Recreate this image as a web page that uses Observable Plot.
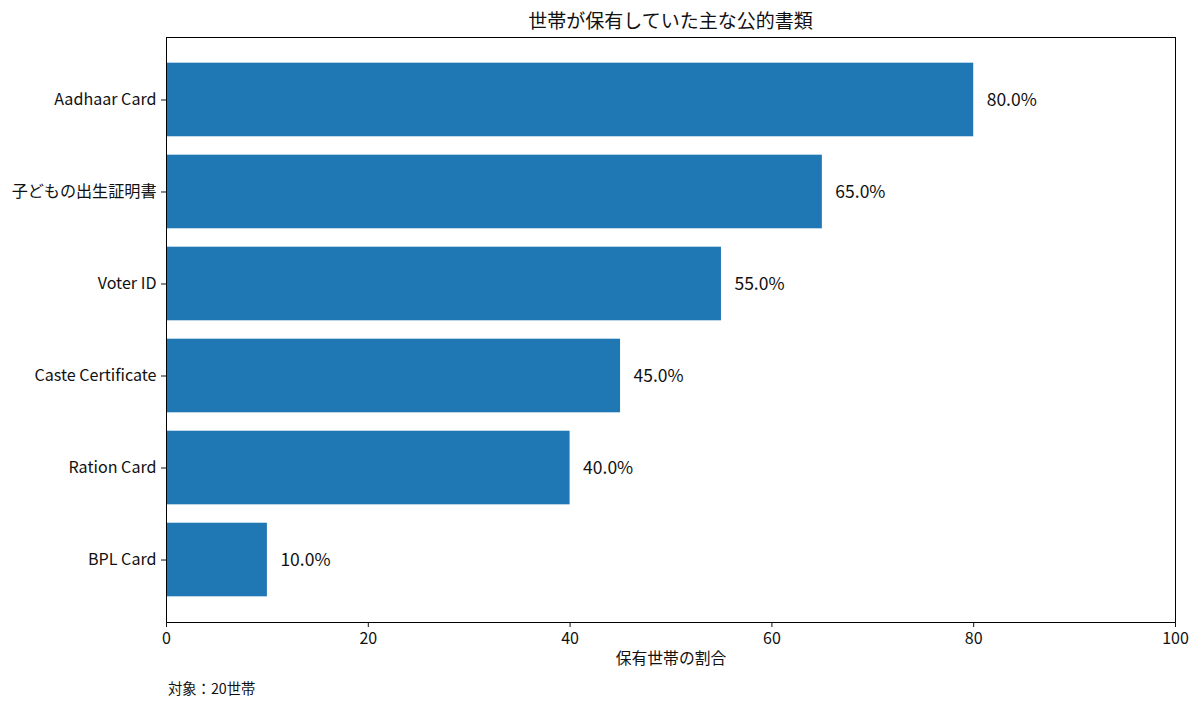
<!DOCTYPE html>
<html><head><meta charset="utf-8">
<script src="https://cdn.jsdelivr.net/npm/d3@7"></script>
<script src="https://cdn.jsdelivr.net/npm/@observablehq/plot@0.6"></script>
<style>
body{margin:0;background:#fff;font-family:"Noto Sans CJK JP","Noto Sans",sans-serif;}
#wrap{position:relative;width:1200px;height:708px;}
#title{position:absolute;left:0;width:1341px;top:7px;text-align:center;font-size:19px;color:#111;line-height:26px;}
#caption{position:absolute;left:168px;top:678px;font-size:14.3px;color:#111;line-height:20px;}
#wrap svg{position:absolute;left:0;top:0;}
</style></head>
<body><div id="wrap"><div id="title">世帯が保有していた主な公的書類</div><div id="caption">対象：20世帯</div></div>
<script>
const categories = ["Aadhaar Card","子どもの出生証明書","Voter ID","Caste Certificate","Ration Card","BPL Card"];
const values = [80, 65, 55, 45, 40, 10];
const xTicks = [0, 20, 40, 60, 80, 100];
const xLabel = "保有世帯の割合";

const data = categories.map((c, i) => ({doc: c, pct: values[i]}));

const chart = Plot.plot({
  width: 1200, height: 708,
  marginLeft: 166, marginRight: 25, marginTop: 37, marginBottom: 86,
  style: {fontFamily: '"Noto Sans CJK JP","Noto Sans",sans-serif', fontSize: "16px", color: "#111", background: "transparent"},
  x: {domain: [0, 100], ticks: xTicks, label: null},
  y: {domain: categories, paddingInner: 0.2, paddingOuter: 0.279, round: false, label: null},
  marks: [
    Plot.barX(data, {x: "pct", y: "doc", fill: "#1f77b4"}),
    Plot.text(data, {x: "pct", y: "doc", text: d => d.pct.toFixed(1) + "%", textAnchor: "start", dx: 13, fontSize: 17.5, fill: "#111"}),
    Plot.frame({stroke: "#000", strokeWidth: 1}),
    Plot.axisX({ticks: xTicks, tickSize: 5, tickPadding: 5, fontSize: 16, label: null}),
    Plot.axisY({tickSize: 5, tickPadding: 5, fontSize: 16.1, label: null}),
    Plot.text([xLabel], {frameAnchor: "bottom", dy: 41, text: d => d, fontSize: 15.8, fill: "#111"})
  ]
});
document.getElementById("wrap").appendChild(chart);
</script></body></html>
